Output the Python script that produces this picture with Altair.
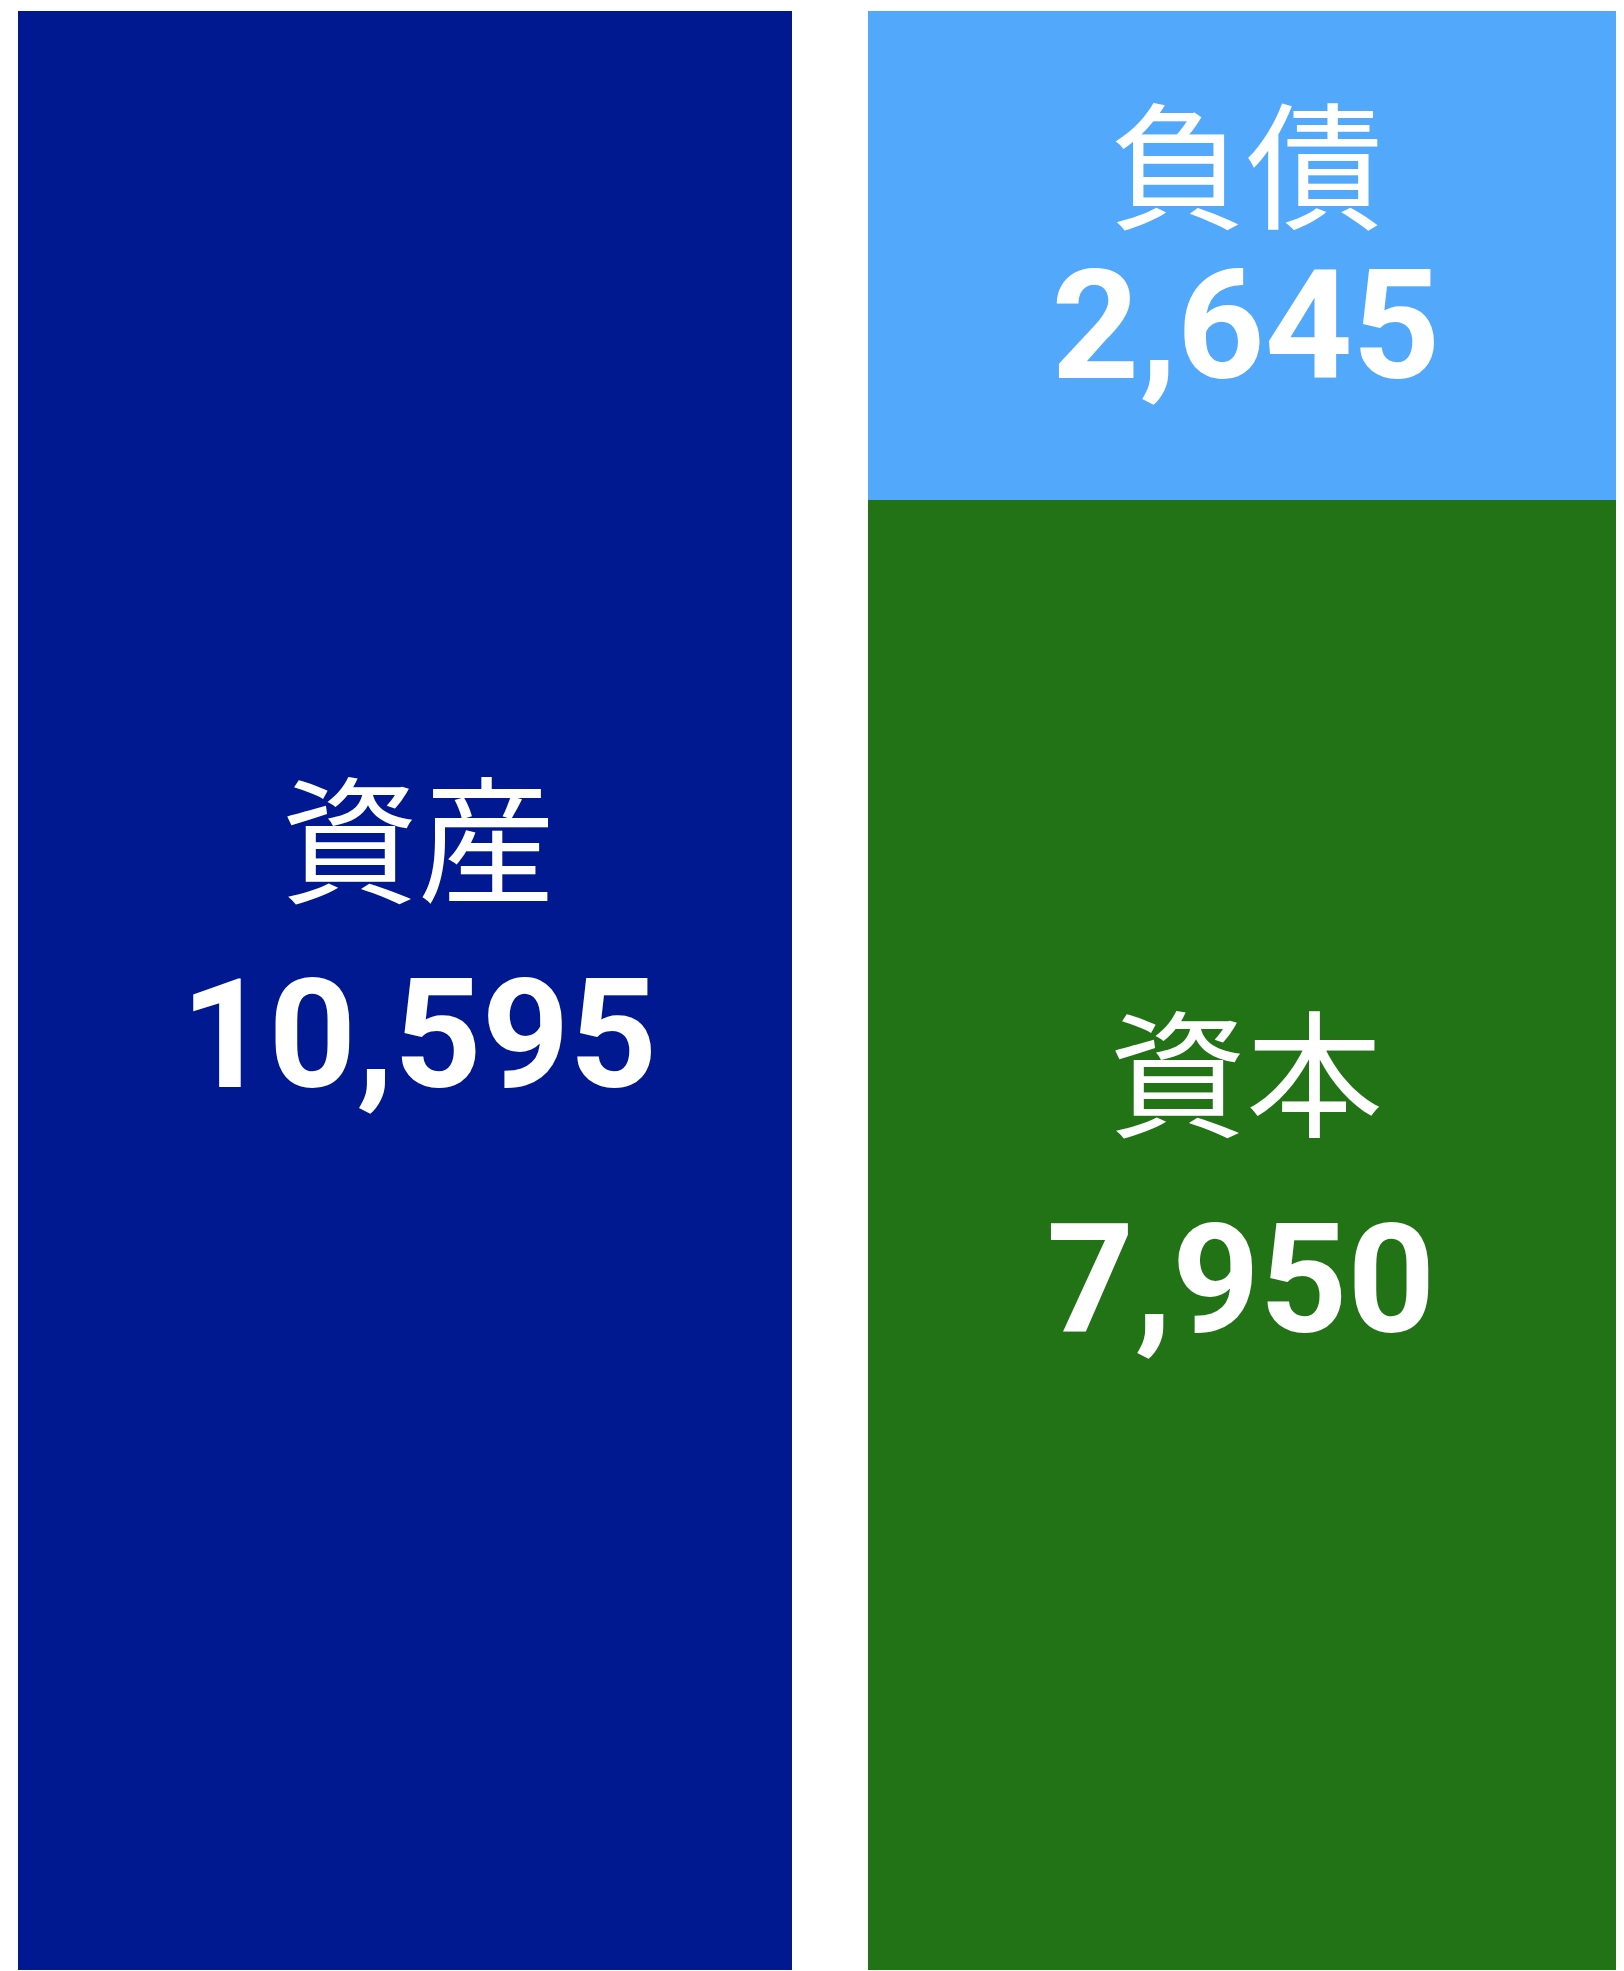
import altair as alt
import pandas as pd

# Data
categories = ["資産", "負債", "資本"]
columns = ["借方", "貸方", "貸方"]
values = [10595, 2645, 7950]
stack_order = [0, 1, 0]
colors = ["#001890", "#52A8FA", "#217316"]

df = pd.DataFrame({
    "category": categories,
    "column": columns,
    "value": values,
    "order": stack_order,
})

x_scale = alt.Scale(domain=["借方", "貸方"], range=[0, 1624], paddingInner=76 / 850, paddingOuter=0)
y_scale = alt.Scale(domain=[0, sum(values[1:])], nice=False, zero=True)
color_scale = alt.Scale(domain=categories, range=colors)

base = alt.Chart(df).transform_stack(
    stack="value", groupby=["column"], as_=["y0", "y1"], sort=[alt.SortField("order", order="ascending")]
).transform_calculate(mid="(datum.y0 + datum.y1) / 2")

bars = base.mark_bar(clip=True).encode(
    x=alt.X("column:N", scale=x_scale, axis=None),
    y=alt.Y("y0:Q", scale=y_scale, axis=None),
    y2="y1:Q",
    color=alt.Color("category:N", scale=color_scale, legend=None),
)

# per-segment label offsets (name dx, value dx, name dy, value dy)
offsets = {
    "資産": (13, 14, -98, 96),
    "負債": (-9, -9, -37, 122),
    "資本": (-9, -14, -108, 97),
}

layers = [bars]
for cat in categories:
    dxn, dxv, dy_name, dy_val = offsets[cat]
    sub = base.transform_filter(alt.datum.category == cat)
    layers.append(
        sub.mark_text(
            font="Noto Sans CJK JP", fontSize=137, fontWeight=400, color="white",
            baseline="alphabetic", align="center", dx=dxn, dy=dy_name,
        ).encode(
            x=alt.X("column:N", scale=x_scale, axis=None),
            y=alt.Y("mid:Q", scale=y_scale, axis=None),
            text="category:N",
        )
    )
    layers.append(
        sub.mark_text(
            font="Roboto", fontSize=153, fontWeight=700, color="white",
            baseline="alphabetic", align="center", dx=dxv, dy=dy_val,
        ).encode(
            x=alt.X("column:N", scale=x_scale, axis=None),
            y=alt.Y("mid:Q", scale=y_scale, axis=None),
            text=alt.Text("value:Q", format=","),
        )
    )

chart = alt.layer(*layers).properties(
    width=1598, height=1959,
    padding={"left": 10, "top": 3, "right": 0, "bottom": 0},
).configure_view(strokeWidth=0)

chart.save("out.html", embed_options={"renderer": "svg", "actions": False})
